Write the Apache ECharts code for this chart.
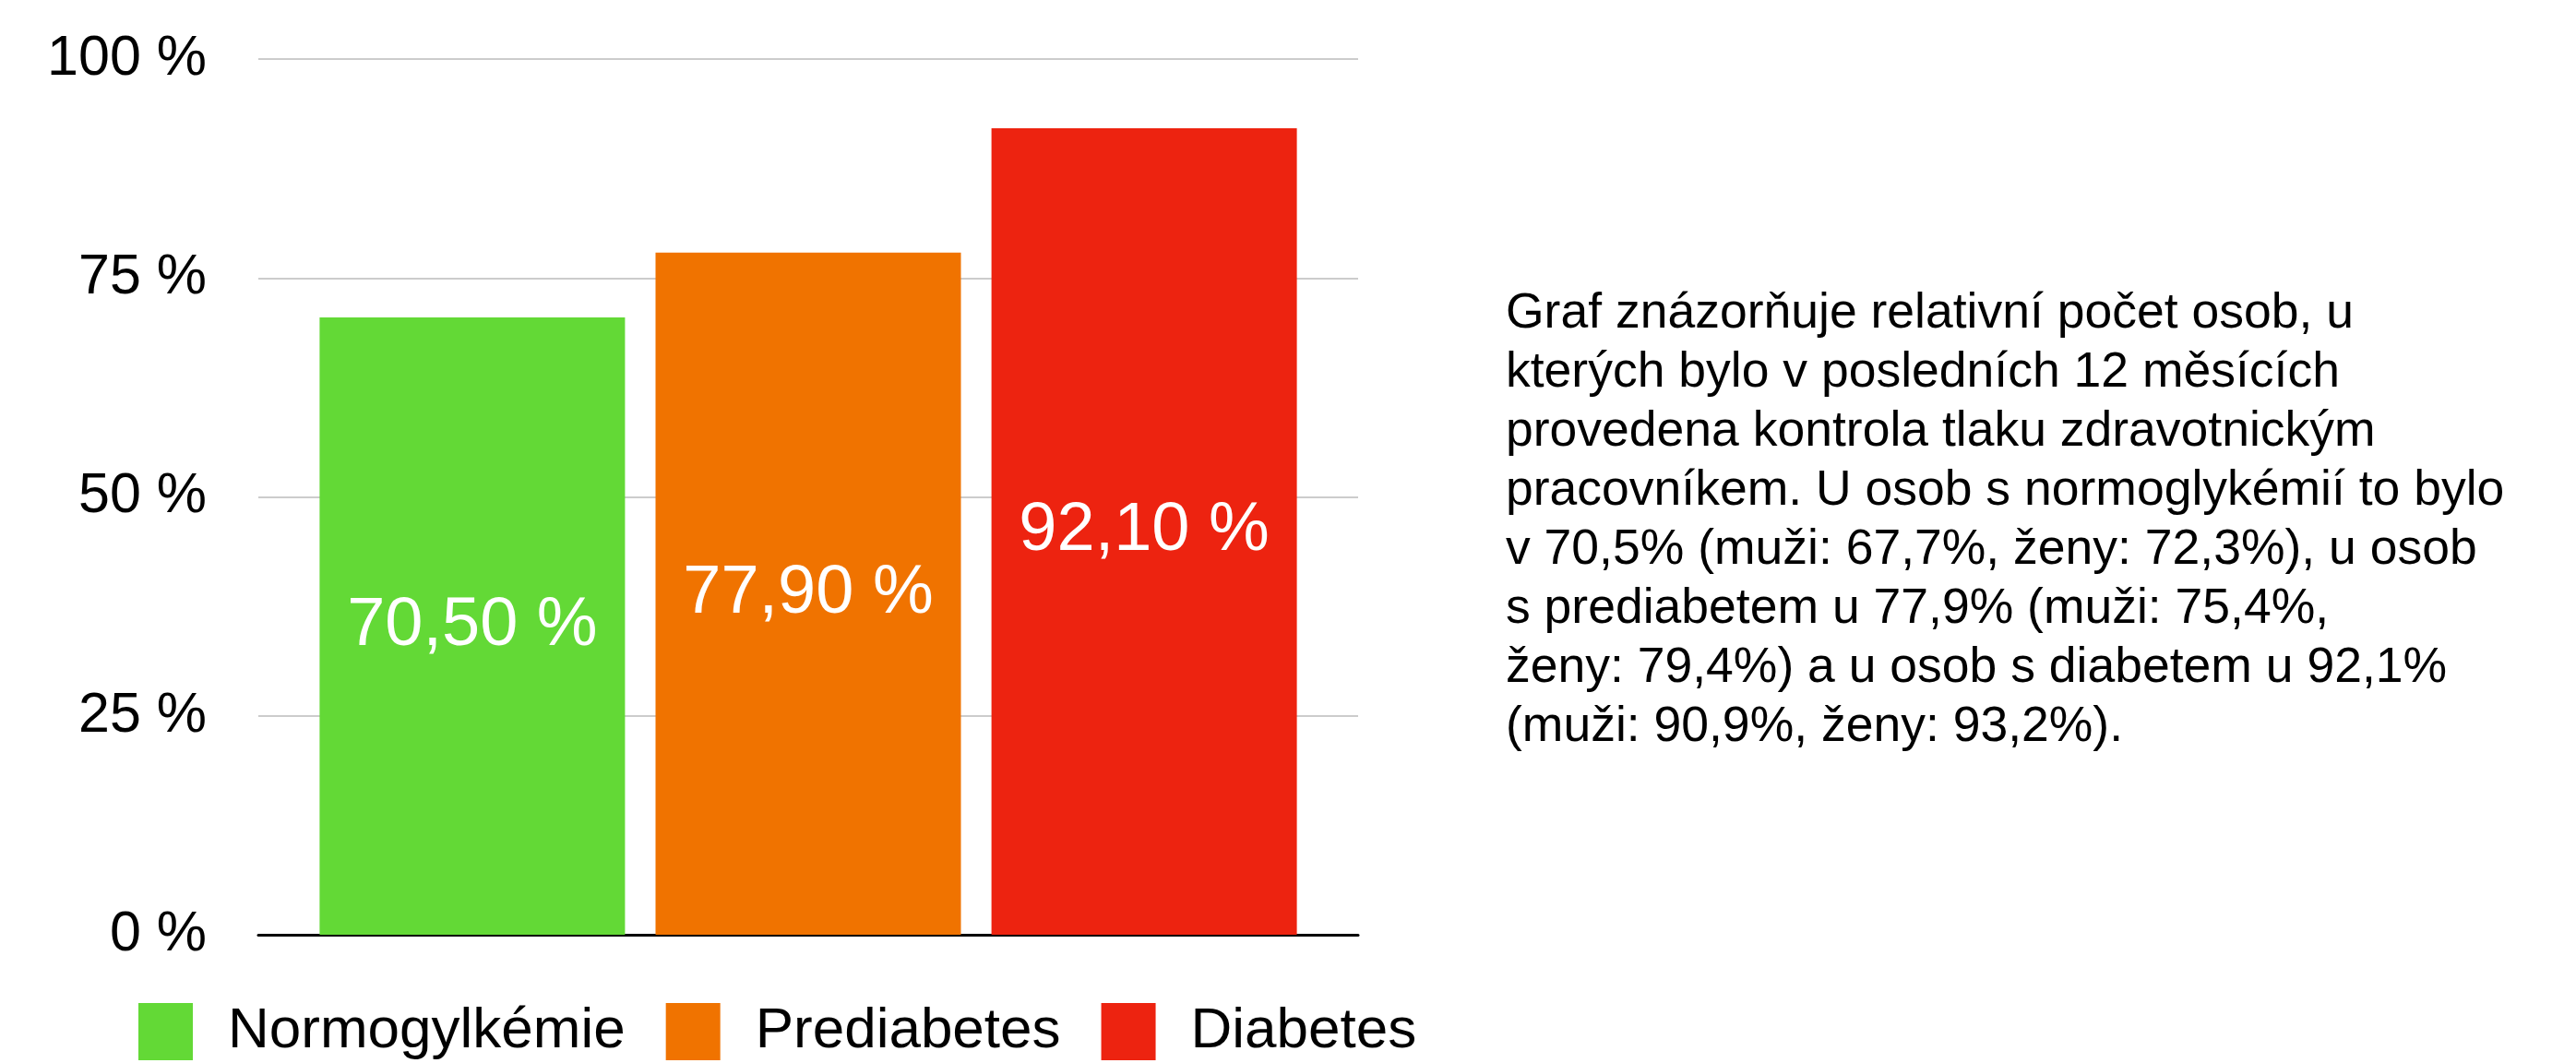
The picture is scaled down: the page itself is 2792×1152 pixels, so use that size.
<!DOCTYPE html>
<html>
<head>
  <meta charset="utf-8">
  <title>Kontrola tlaku</title>
  <script src="https://cdn.jsdelivr.net/npm/echarts@6/dist/echarts.min.js"></script>
  <style>
    html, body { margin: 0; padding: 0; background: #fff; }
    #chart { width: 2792px; height: 1152px; }
  </style>
</head>
<body>
<div id="chart"></div>
<script>
// data
const groups = ['Normogylkémie', 'Prediabetes', 'Diabetes']
const values = [70.5, 77.9, 92.1]
const colors = ['#63D936', '#F07300', '#ED2310']
const yTicks = [0, 25, 50, 75, 100]

const noteLines = [
  'Graf znázorňuje relativní počet osob, u',
  'kterých bylo v posledních 12 měsících',
  'provedena kontrola tlaku zdravotnickým',
  'pracovníkem. U osob s normoglykémií to bylo',
  'v 70,5% (muži: 67,7%, ženy: 72,3%), u osob',
  's prediabetem u 77,9% (muži: 75,4%,',
  'ženy: 79,4%) a u osob s diabetem u 92,1%',
  '(muži: 90,9%, ženy: 93,2%).'
]

const font = '"Liberation Sans", Arial, Helvetica, sans-serif'

// one category, one series per group (legend shows the groups)
let series = groups.map((name, i) => ({
  name: name,
  type: 'bar',
  data: [values[i]],
  barWidth: 331,
  barGap: '10%',
  itemStyle: { color: colors[i] },
  label: {
    show: true,
    position: 'inside',
    color: '#fff',
    fontSize: 74,
    fontFamily: font,
    formatter: p => p.value.toFixed(2).replace('.', ',') + ' %'
  }
}))

let option = {
  animation: false,
  backgroundColor: '#fff',
  grid: {
    left: 280,
    top: 64,
    width: 1192,
    height: 949
  },
  legend: {
    left: 145,
    top: 1082,
    icon: 'rect',
    itemWidth: 59,
    itemHeight: 62,
    itemGap: 44,
    data: groups,
    textStyle: {
      fontSize: 62,
      fontFamily: font,
      color: '#000',
      padding: [0, 0, 0, 33]
    }
  },
  xAxis: {
    type: 'category',
    data: [''],
    axisTick: { show: false },
    axisLabel: { show: false },
    axisLine: { lineStyle: { color: '#000', width: 3 } }
  },
  yAxis: {
    type: 'value',
    min: yTicks[0],
    max: yTicks[yTicks.length - 1],
    interval: yTicks[1] - yTicks[0],
    axisLine: { show: false },
    axisTick: { show: false },
    axisLabel: {
      margin: 56,
      fontSize: 61,
      fontFamily: font,
      color: '#000',
      formatter: '{value} %'
    },
    splitLine: { lineStyle: { color: '#cccccc', width: 2 } }
  },
  graphic: [{
    type: 'text',
    left: 1632,
    top: 308,
    style: {
      text: noteLines.join('\n'),
      font: '53.5px ' + font,
      lineHeight: 64,
      fill: '#000'
    }
  }],
  series: series
}

let myChart = echarts.init(document.getElementById('chart'))
myChart.setOption(option)
</script>
</body>
</html>
